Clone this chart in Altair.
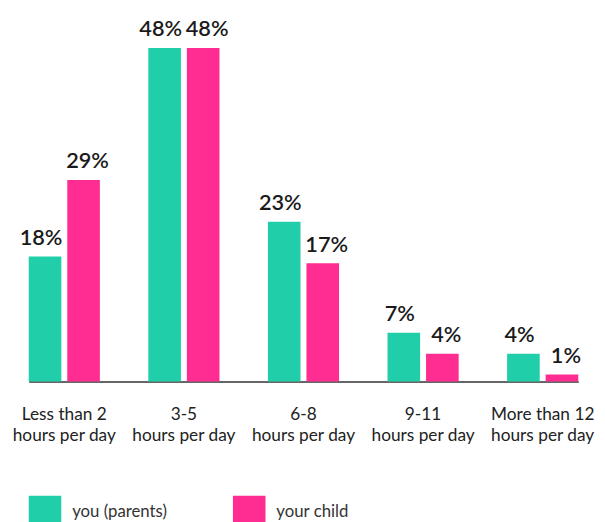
import altair as alt
import pandas as pd

categories = [
    "Less than 2\nhours per day",
    "3-5\nhours per day",
    "6-8\nhours per day",
    "9-11\nhours per day",
    "More than 12\nhours per day",
]
series = ["you (parents)", "your child"]
parents = [18, 48, 23, 7, 4]
child = [29, 48, 17, 4, 1]
colors = ["#20CFAA", "#FF2D92"]

rows = []
for c, p, k in zip(categories, parents, child):
    rows.append({"category": c, "series": series[0], "value": p})
    rows.append({"category": c, "series": series[1], "value": k})
df = pd.DataFrame(rows)

FONT = "Lato"
yscale = alt.Scale(domain=[0, 50])

base = alt.Chart(df).transform_calculate(
    label="datum.value + '%'"
).encode(
    x=alt.X(
        "category:N",
        sort=categories,
        scale=alt.Scale(paddingInner=0.405, paddingOuter=0),
        axis=alt.Axis(
            title=None,
            labelAngle=0,
            labelExpr="split(datum.label, '\\n')",
            labelFontSize=17.5,
            labelFont=FONT,
            labelColor="#222222",
            labelLineHeight=21,
            labelPadding=25,
            ticks=False,
            domainColor="#333333",
            domainWidth=1.5,
            labelBaseline="top",
        ),
    ),
    xOffset=alt.XOffset(
        "series:N", sort=series, scale=alt.Scale(paddingInner=0.154, paddingOuter=0)
    ),
)

bars = base.mark_bar().encode(
    y=alt.Y("value:Q", scale=yscale, axis=None),
    color=alt.Color(
        "series:N",
        scale=alt.Scale(domain=series, range=colors),
        legend=alt.Legend(
            title=None,
            orient="none",
            legendX=0,
            legendY=468,
            direction="horizontal",
            symbolType="square",
            symbolSize=1089,
            symbolStrokeWidth=0,
            symbolOpacity=1,
            labelFontSize=17,
            labelFont=FONT,
            labelColor="#333333",
            labelOffset=11,
            columnPadding=66,
            padding=0,
        ),
    ),
)


def labels(name, dx):
    return (
        base.transform_filter(alt.datum.series == name)
        .mark_text(
            dy=-12,
            dx=dx,
            baseline="alphabetic",
            fontSize=22,
            fontWeight=600,
            font=FONT,
            color="#1a1a1a",
        )
        .encode(y=alt.Y("value:Q", scale=yscale, axis=None), text="label:N")
    )


chart = (
    alt.layer(bars, labels(series[0], -4), labels(series[1], 4))
    .properties(
        width=557,
        height=352,
        autosize=alt.AutoSizeParams(type="none"),
        padding={"left": 21, "top": 23, "right": 19, "bottom": 139},
        background="white",
    )
    .configure_view(stroke=None)
)

chart.save("out.html", embed_options={"renderer": "svg", "actions": False})
